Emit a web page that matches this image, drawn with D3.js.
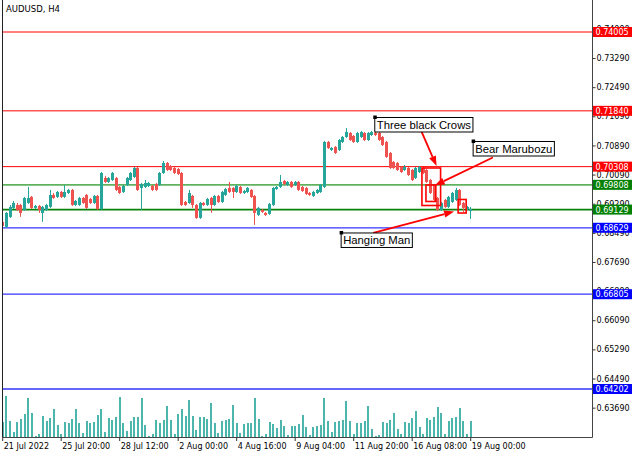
<!DOCTYPE html>
<html><head><meta charset="utf-8">
<script src="https://cdn.jsdelivr.net/npm/d3@7"></script>
<style>body{margin:0;background:#fff}svg{display:block}</style>
</head><body>
<svg id="c" width="640" height="457"></svg>
<script>
// ---- DATA ----
const title = "AUDUSD, H4";
const opens = [.68790,.68653,.68927,.69174,.69256,.69256,.69119,.69311,.69476,.69174,.69229,.69037,.69119,.69202,.69531,.69476,.69613,.69476,.69585,.69668,
.69256,.69256,.69448,.69531,.69421,.69311,.69503,.69147,.69997,.69887,.69942,.69997,.69750,.69613,.69805,.69942,.70024,.70271,.69723,.69750,
.69777,.69777,.69832,.69805,.70134,.70408,.70326,.70271,.70244,.70134,.69339,.69311,.69503,.69256,.68900,.69311,.69256,.69448,.69256,.69503,
.69339,.69531,.69723,.69723,.69613,.69750,.69585,.69613,.69668,.69503,.68982,.69119,.69037,.69010,.69256,.69695,.69750,.69914,.69805,.69887,
.69805,.69887,.69750,.69723,.69585,.69503,.69585,.69613,.69750,.70985,.70766,.70848,.70766,.70985,.71123,.71232,.71150,.70985,.71123,.71232,
.71040,.71177,.71232,.71232,.71123,.70985,.70684,.70436,.70408,.70298,.70216,.70271,.70216,.69997,.70161,.70271,.70216,.69942,.69805,.69448,
.69119,.69394,.69202,.69339,.69394,.69668,.69311,.69147,.69092];
const highs = [.68818,.69064,.69256,.69366,.69311,.69284,.69476,.69750,.69503,.69256,.69256,.69229,.69284,.69668,.69585,.69640,.69640,.69805,.69695,.69695,
.69394,.69476,.69476,.69558,.69448,.69531,.69531,.70161,.70052,.70024,.70161,.70024,.69777,.69805,.70024,.70161,.70298,.70298,.69860,.69942,
.69887,.69805,.69860,.70161,.70463,.70436,.70353,.70298,.70271,.70161,.69366,.69668,.69531,.69284,.69339,.69339,.69448,.69476,.69531,.69531,
.69640,.69723,.69887,.69750,.69805,.69777,.69668,.69750,.69695,.69531,.69202,.69147,.69064,.69311,.69750,.69777,.70079,.69942,.69914,.69914,
.69914,.69914,.69777,.69750,.69613,.69640,.69695,.69832,.71013,.71013,.70848,.70876,.71068,.71150,.71370,.71260,.71177,.71260,.71287,.71260,
.71260,.71287,.71260,.71260,.71150,.71013,.70711,.70463,.70436,.70326,.70353,.70298,.70244,.70298,.70326,.70298,.70244,.69969,.69832,.69476,
.69339,.69421,.69503,.69613,.69723,.69695,.69339,.69229,.69202];
const lows = [.68625,.68625,.68900,.69147,.69092,.68927,.69092,.69284,.69147,.69147,.69037,.68790,.69092,.69174,.69421,.69448,.69448,.69448,.69558,.69229,
.69229,.69229,.69284,.69147,.69284,.69284,.69119,.69119,.69860,.69860,.69914,.69640,.69558,.69585,.69777,.69914,.69997,.69640,.69119,.69723,
.69750,.69640,.69640,.69777,.70106,.70189,.70189,.70106,.70079,.69229,.69229,.69284,.69174,.68872,.68872,.69229,.69229,.69037,.69229,.69311,
.69311,.69503,.69585,.69448,.69585,.69558,.69558,.69585,.69448,.68708,.68955,.69037,.68955,.68982,.69229,.69668,.69723,.69805,.69777,.69723,
.69777,.69640,.69613,.69531,.69503,.69476,.69558,.69585,.69723,.70793,.70738,.70656,.70738,.70958,.71095,.71013,.70958,.70958,.71095,.71013,
.71013,.71150,.71150,.71013,.70876,.70546,.70244,.70244,.70189,.70134,.70189,.70052,.69914,.69969,.70134,.70106,.69860,.69558,.69366,.69092,
.69092,.69174,.69174,.69311,.69366,.69229,.69064,.69119,.68872];
const closes = [.68680,.69037,.69202,.69311,.69119,.69037,.69448,.69448,.69174,.69229,.69119,.69202,.69256,.69531,.69448,.69613,.69476,.69613,.69668,.69256,
.69366,.69448,.69311,.69174,.69311,.69503,.69147,.70134,.69887,.69997,.70134,.69668,.69585,.69777,.69997,.70134,.70271,.69668,.69832,.69860,
.69860,.69668,.69668,.70134,.70408,.70216,.70216,.70134,.70106,.69256,.69256,.69585,.69256,.68900,.69311,.69256,.69421,.69256,.69503,.69339,
.69613,.69695,.69613,.69613,.69777,.69585,.69640,.69723,.69476,.69037,.69174,.69064,.68982,.69284,.69723,.69750,.69887,.69832,.69887,.69750,
.69887,.69668,.69640,.69558,.69531,.69613,.69668,.69805,.70985,.70821,.70821,.70684,.71040,.71123,.71260,.71040,.70985,.71232,.71260,.71040,
.71232,.71260,.71177,.71040,.70903,.70574,.70271,.70271,.70216,.70161,.70298,.70079,.69942,.70271,.70298,.70134,.69887,.69585,.69394,.69119,
.69311,.69202,.69476,.69585,.69668,.69256,.69174,.69202,.69147];
const volumes = [1500,4130,1570,470,1500,1800,2330,3900,2430,100,330,2130,1600,1870,2800,1230,330,1500,1400,1800,
2800,1400,400,1600,1400,1470,2230,2870,500,1870,1730,2030,4070,1400,570,1600,2030,1970,3900,1230,
100,330,1670,1400,1700,3130,1670,330,2330,2870,2070,3700,2130,670,1970,1970,1800,3400,1400,400,
1600,1730,1800,3230,1400,400,1330,1400,1400,3970,1800,100,330,1470,1330,900,1670,1130,230,1130,
1070,1330,2230,970,230,970,1070,1230,3900,1630,470,1470,1630,1700,3630,1630,330,1400,1400,1630,
3130,800,100,230,1500,1400,1700,2430,830,330,1500,1400,1870,2630,970,330,1900,1700,1970,3070,
2370,330,1630,1870,1970,2900,1630,330,1630];
const xLabels = ["21 Jul 2022","25 Jul 20:00","28 Jul 12:00","2 Aug 00:00","4 Aug 16:00","9 Aug 04:00","11 Aug 20:00","16 Aug 08:00","19 Aug 00:00"];
const xLabelBars = [0,16,32,48,64,80,96,112,128];
const yTicks = [0.74090,0.73290,0.72490,0.71690,0.70890,0.70090,0.69290,0.68490,0.67690,0.66890,0.66090,0.65290,0.64490,0.63690];
const levelPrices = [0.74005,0.71840,0.70308,0.69808,0.69129,0.68629,0.66805,0.64202];
const levelKinds = ["res","res","res","mid","sup","blue","blue","blue"];
const noteTexts = ["Three black Crows","Bear Marubozu","Hanging Man"];
const noteBars = [101.9,128.8,92.7];
const notePrices = [0.71671,0.71012,0.68500];
const arrowFrom = [[114.6,0.71287],[134.2,0.70559],[101.5,0.68486]];
const arrowTo = [[118.8,0.70326],[118.3,0.69790],[123.6,0.69076]];
const boxBars = [[114.8,119.9],[115.9,118.6],[124.7,126.9]];
const boxPrices = [[0.70271,0.69241],[0.69804,0.69351],[0.69406,0.69035]];

// ---- DRAW ----
const svg = d3.select("#c");
const F = "DejaVu Sans, sans-serif";
const bull = "#26a69a", bear = "#ef5350";
const x = d3.scaleLinear().domain([0,128]).range([2.2,470.2]);
const y = d3.scaleLinear().domain([0.64202,0.74005]).range([389,32]);
const vy = d3.scaleLinear().domain([0,d3.max(volumes)]).range([437,396]);
const n = closes.length;
const idx = d3.range(n);

svg.append("defs").append("clipPath").attr("id","pc").append("rect")
  .attr("x",3).attr("y",0).attr("width",589).attr("height",437.5);
const g = svg.append("g").attr("clip-path","url(#pc)");

// volumes
g.append("g").selectAll("rect").data(idx).join("rect")
  .attr("x",i=>x(i)-0.5).attr("width",2)
  .attr("y",i=>vy(volumes[i])).attr("height",i=>Math.max(1,437-vy(volumes[i])))
  .attr("fill","#4db6ac").attr("shape-rendering","crispEdges");

// levels
const lvlStyle = {res:{c:"#ff0000",w:1,box:"#ff0000"},mid:{c:"#5fb35f",w:1.6,box:"#008000"},
  sup:{c:"#0a820a",w:1.8,box:"#008000"},blue:{c:"#3535ff",w:1.3,box:"#0000ff"}};
g.append("g").selectAll("line").data(levelPrices).join("line")
  .attr("x1",3).attr("x2",592).attr("y1",d=>y(d)).attr("y2",d=>y(d))
  .attr("stroke",(d,i)=>lvlStyle[levelKinds[i]].c)
  .attr("stroke-width",(d,i)=>lvlStyle[levelKinds[i]].w);

// candles
const cg = g.append("g");
cg.selectAll("line").data(idx).join("line")
  .attr("x1",i=>Math.round(x(i))+0.5).attr("x2",i=>Math.round(x(i))+0.5)
  .attr("y1",i=>y(highs[i])).attr("y2",i=>y(lows[i]))
  .attr("stroke",i=>closes[i]>=opens[i]?bull:bear).attr("stroke-width",1);
cg.selectAll("rect").data(idx).join("rect")
  .attr("x",i=>Math.round(x(i))-1).attr("width",3)
  .attr("y",i=>y(Math.max(opens[i],closes[i])))
  .attr("height",i=>Math.max(1,Math.abs(y(opens[i])-y(closes[i]))))
  .attr("fill",i=>closes[i]>=opens[i]?bull:bear);

// boxes
g.append("g").selectAll("rect").data(boxBars).join("rect")
  .attr("x",(d)=>x(d[0])).attr("width",d=>x(d[1])-x(d[0]))
  .attr("y",(d,i)=>y(boxPrices[i][0])).attr("height",(d,i)=>y(boxPrices[i][1])-y(boxPrices[i][0]))
  .attr("fill","none").attr("stroke","#ff0000").attr("stroke-width",1.6);

// arrows
const ag = g.append("g");
arrowFrom.forEach((a,i)=>{
  const x1=x(a[0]),y1=y(a[1]),x2=x(arrowTo[i][0]),y2=y(arrowTo[i][1]);
  const ang=Math.atan2(y2-y1,x2-x1), L=10, Wd=3.6;
  const bx=x2-L*Math.cos(ang), by=y2-L*Math.sin(ang);
  ag.append("line").attr("x1",x1).attr("y1",y1).attr("x2",bx).attr("y2",by)
    .attr("stroke","#ff0000").attr("stroke-width",1.8);
  const px=-Math.sin(ang)*Wd, py=Math.cos(ang)*Wd;
  ag.append("path").attr("d",`M${x2},${y2}L${bx+px},${by+py}L${bx-px},${by-py}Z`).attr("fill","#ff0000");
});

// text notes
noteTexts.forEach((t,i)=>{
  const ax=x(noteBars[i]), ay=y(notePrices[i]);
  const ng=g.append("g");
  const r=ng.append("rect").attr("x",ax).attr("y",ay+0.5).attr("height",14.5)
    .attr("fill","#fff").attr("stroke","#000").attr("stroke-width",1);
  const tx=ng.append("text").attr("x",ax+2).attr("y",ay+12).text(t)
    .attr("font-family","Liberation Sans, Arial, sans-serif").attr("font-size",11.3).attr("fill","#000");
  r.attr("width",tx.node().getComputedTextLength()+4);
  ng.append("rect").attr("x",ax-1.5).attr("y",ay-1.5).attr("width",3.5).attr("height",3.5).attr("fill","#000");
});

// frame
svg.append("line").attr("x1",2.5).attr("x2",2.5).attr("y1",0).attr("y2",437.5).attr("stroke","#222");
svg.append("line").attr("x1",592.5).attr("x2",592.5).attr("y1",0).attr("y2",437.5).attr("stroke","#444");
svg.append("line").attr("x1",2.5).attr("x2",592.5).attr("y1",437.5).attr("y2",437.5).attr("stroke","#444");

// right axis
const ya = svg.append("g").attr("transform","translate(592.5,0)")
  .call(d3.axisRight(y).tickValues(yTicks).tickSize(3).tickPadding(1).tickFormat(d3.format(".5f")));
ya.select(".domain").remove();
ya.selectAll("line").attr("stroke","#333");
ya.selectAll("text").attr("font-family",F).attr("font-size",8).attr("fill","#000");

// level labels
const lb = svg.append("g");
levelPrices.forEach((p,i)=>{
  lb.append("rect").attr("x",593).attr("y",y(p)-5).attr("width",39).attr("height",10)
    .attr("fill",lvlStyle[levelKinds[i]].box);
  lb.append("text").attr("x",595.5).attr("y",y(p)+3).text(d3.format(".5f")(p))
    .attr("font-family",F).attr("font-size",8).attr("fill","#fff");
});

// bottom axis
const xa = svg.append("g").attr("transform","translate(0,437.5)")
  .call(d3.axisBottom(x).tickValues(xLabelBars).tickSize(3.5).tickPadding(2)
    .tickFormat((d,i)=>xLabels[i]));
xa.select(".domain").remove();
xa.selectAll("line").attr("stroke","#333");
xa.selectAll("text").attr("font-family",F).attr("font-size",8).attr("fill","#000")
  .attr("text-anchor","start").attr("dx",1);

// title
svg.append("text").attr("x",6).attr("y",12).text(title)
  .attr("font-family",F).attr("font-size",8.5).attr("fill","#000");
</script>
</body></html>
